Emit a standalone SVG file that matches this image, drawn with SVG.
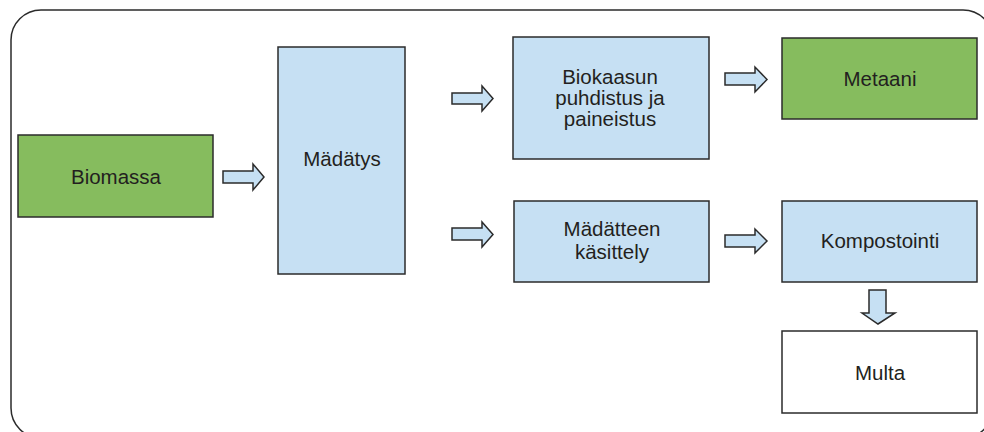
<svg xmlns="http://www.w3.org/2000/svg" width="984" height="432" viewBox="0 0 984 432">
<style>
.frame{fill:none;stroke:#2b2b2b;stroke-width:1.5}
.box{stroke:#2b2b2b;stroke-width:1.5}
.g{fill:#86bc5e}
.b{fill:#c6e0f3}
.w{fill:#ffffff}
.arr{fill:#c6e0f3;stroke:#2b2b2b;stroke-width:1.5;stroke-linejoin:miter}
text{font-family:"Liberation Sans",Arial,sans-serif;font-size:20.5px;fill:#231f20;text-anchor:middle}
</style>
<rect width="984" height="432" fill="#ffffff"/>
<rect class="frame" x="11" y="10" width="982" height="428" rx="30" ry="30"/>
<g id="connectors">
<path class="arr" d="M223,171 H253 V164 L264,177 L253,190 V183 H223 Z"/>
<path class="arr" d="M452,93 H482 V86 L493,98.5 L482,111 V104 H452 Z"/>
<path class="arr" d="M452,228 H482 V222 L493,234.5 L482,247 V240 H452 Z"/>
<path class="arr" d="M725,73 H755 V67 L767,79.5 L755,92 V85 H725 Z"/>
<path class="arr" d="M725,235 H755 V229 L767,241 L755,253 V247 H725 Z"/>
<path class="arr" d="M869,290 H886 V313 H895 L878,324 L862,313 H869 Z"/>
</g>
<g id="biomassa"><rect class="box g" x="18" y="135" width="195" height="82"/><text x="116" y="184">Biomassa</text></g>
<g id="madatys"><rect class="box b" x="278" y="47" width="127" height="227"/><text x="342" y="166">Mädätys</text></g>
<g id="biokaasun"><rect class="box b" x="513" y="37" width="196" height="122"/><text x="610" y="84">Biokaasun</text><text x="610" y="105">puhdistus ja</text><text x="610" y="126">paineistus</text></g>
<g id="metaani"><rect class="box g" x="782" y="38" width="195" height="81"/><text x="880" y="86">Metaani</text></g>
<g id="madatteen"><rect class="box b" x="514" y="201" width="195" height="81"/><text x="612" y="236">Mädätteen</text><text x="612" y="259">käsittely</text></g>
<g id="kompostointi"><rect class="box b" x="782" y="201" width="195" height="81"/><text x="880" y="248">Kompostointi</text></g>
<g id="multa"><rect class="box w" x="782" y="331" width="195" height="82"/><text x="880" y="380">Multa</text></g>
</svg>
